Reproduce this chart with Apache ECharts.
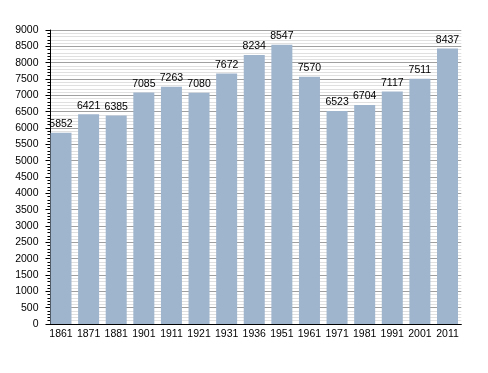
<!DOCTYPE html>
<html>
<head>
<meta charset="utf-8">
<script src="https://cdn.jsdelivr.net/npm/echarts@6/dist/echarts.min.js"></script>
<style>html,body{margin:0;padding:0;background:#fff}#c{width:488px;height:373px}</style>
</head>
<body>
<div id="c"></div>
<script>
const years = ['1861','1871','1881','1901','1911','1921','1931','1936','1951','1961','1971','1981','1991','2001','2011'];
const population = [5852,6421,6385,7085,7263,7080,7672,8234,8547,7570,6523,6704,7117,7511,8437];
const yMin = 0, yMax = 9000, yStep = 500;

const chart = echarts.init(document.getElementById('c'), null, {renderer:'canvas'});
const font = 'Liberation Sans, Arial, Helvetica, sans-serif';
chart.setOption({
  animation: false,
  backgroundColor: '#fff',
  grid: {left: 47.2, right: 26.7, top: 30, bottom: 49, containLabel: false},
  xAxis: {
    type: 'category',
    data: years,
    boundaryGap: true,
    axisLine: {show: true, lineStyle: {color: '#000', width: 1}},
    axisTick: {show: false},
    axisLabel: {color: '#000', fontSize: 10.5, fontFamily: font, margin: 5, interval: 0},
    splitLine: {show: false}
  },
  yAxis: {
    type: 'value',
    min: yMin, max: yMax, interval: yStep,
    offset: -3.3,
    axisLine: {show: true, lineStyle: {color: '#000', width: 1}},
    axisTick: {show: true, length: 5, lineStyle: {color: '#000'}},
    minorTick: {show: true, splitNumber: 5, length: 3, lineStyle: {color: '#000'}},
    axisLabel: {color: '#000', fontSize: 10.5, fontFamily: font, margin: 12, formatter: v => String(v)},
    splitLine: {show: true, lineStyle: {color: '#a0a0a0', width: 1}},
    minorSplitLine: {show: true, lineStyle: {color: '#e0e0e0', width: 1}}
  },
  series: [{
    type: 'bar',
    data: population,
    barWidth: 21,
    itemStyle: {color: '#9fb5cd'},
    label: {show: true, position: 'top', distance: 3, color: '#000', fontSize: 10.5, fontFamily: font}
  }]
});
</script>
</body>
</html>
